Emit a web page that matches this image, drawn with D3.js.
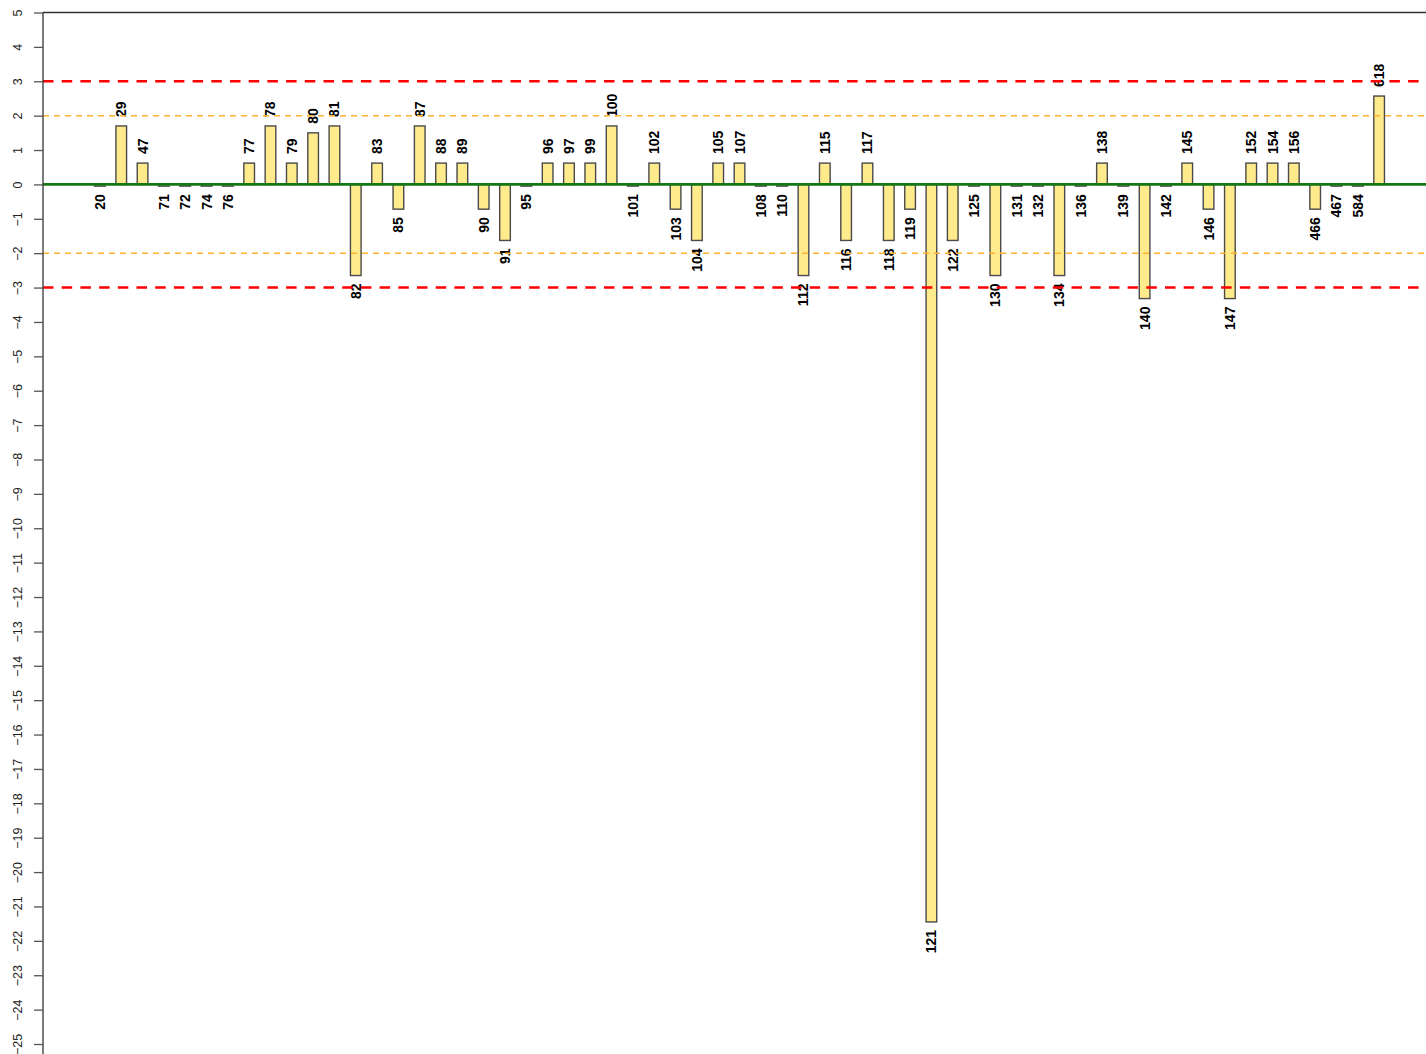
<!DOCTYPE html>
<html>
<head>
<meta charset="utf-8">
<script src="https://cdn.jsdelivr.net/npm/d3@7/dist/d3.min.js"></script>
<style>
  html, body { margin: 0; padding: 0; background: #fff; overflow: hidden; }
  svg { display: block; font-family: "Liberation Sans", Arial, sans-serif; }
</style>
</head>
<body>
<svg id="chart" width="1426" height="1054"></svg>
<script>
// ---- data ----
const categories = ["20","29","47","71","72","74","76","77","78","79","80","81","82","83","85","87","88","89","90","91","95","96","97","99","100","101","102","103","104","105","107","108","110","112","115","116","117","118","119","121","122","125","130","131","132","134","136","138","139","140","142","145","146","147","152","154","156","466","467","584","618"];
const values = [-0.05,1.7,0.62,-0.05,-0.05,-0.05,-0.05,0.62,1.7,0.62,1.5,1.7,-2.65,0.62,-0.72,1.7,0.62,0.62,-0.72,-1.63,-0.05,0.62,0.62,0.62,1.7,-0.05,0.62,-0.72,-1.63,0.62,0.62,-0.05,-0.05,-2.65,0.62,-1.63,0.62,-1.63,-0.72,-21.45,-1.63,-0.05,-2.65,-0.05,-0.05,-2.65,-0.05,0.62,-0.05,-3.32,-0.05,0.62,-0.72,-3.32,0.62,0.62,0.62,-0.72,-0.05,-0.05,2.57];
const yTicks = [5,4,3,2,1,0,-1,-2,-3,-4,-5,-6,-7,-8,-9,-10,-11,-12,-13,-14,-15,-16,-17,-18,-19,-20,-21,-22,-23,-24,-25];
const warnLimits = [2,-2];
const alarmLimits = [3,-3];
const baseline = [0];

// ---- scales (barplot units: bar i spans [1+2i, 2+2i]) ----
const n = categories.length;
const xLo = 1, xHi = 2 * n;
const ext = (xHi - xLo) * 0.04;
const x = d3.scaleLinear().domain([xLo - ext, xHi + ext]).range([43, 43 + (xHi - xLo + 2 * ext) * 10.66]);
const y = d3.scaleLinear().domain([-25, 5]).range([1044, 12.5]);

const svg = d3.select("#chart");
const plotLeft = x(xLo - ext), plotRight = x(xHi + ext);

// bars
svg.append("g").selectAll("rect").data(values).join("rect")
  .attr("x", (d, i) => x(1 + 2 * i))
  .attr("width", (d, i) => x(2 + 2 * i) - x(1 + 2 * i))
  .attr("y", d => y(Math.max(0, d)))
  .attr("height", d => Math.abs(y(d) - y(0)))
  .attr("fill", "#FFEA8C")
  .attr("stroke", "#4a4a4a")
  .attr("stroke-width", 1.4);

// bar labels
svg.append("g").selectAll("text").data(values).join("text")
  .attr("transform", (d, i) => {
    const cx = x(1.5 + 2 * i);
    const yy = d >= 0 ? y(d) - 9 : y(d) + 8;
    return `translate(${cx},${yy}) rotate(-90)`;
  })
  .attr("text-anchor", d => d >= 0 ? "start" : "end")
  .attr("dominant-baseline", "central")
  .attr("font-size", "14px")
  .attr("font-weight", "bold")
  .attr("fill", "#000")
  .text((d, i) => categories[i]);

// reference lines
svg.append("g").selectAll("line").data(warnLimits).join("line")
  .attr("x1", plotLeft).attr("x2", plotRight)
  .attr("y1", d => y(d)).attr("y2", d => y(d))
  .attr("stroke", "#FFB22E").attr("stroke-width", 1.5)
  .attr("stroke-dasharray", "6,5");

svg.append("g").selectAll("line").data(alarmLimits).join("line")
  .attr("x1", plotLeft).attr("x2", plotRight)
  .attr("y1", d => y(d)).attr("y2", d => y(d))
  .attr("stroke", "#FF0000").attr("stroke-width", 2.5)
  .attr("stroke-dasharray", "10.5,8.2");

svg.append("g").selectAll("line").data(baseline).join("line")
  .attr("x1", plotLeft).attr("x2", plotRight)
  .attr("y1", d => y(d)).attr("y2", d => y(d))
  .attr("stroke", "#137813").attr("stroke-width", 2.6);

// frame (top)
svg.append("line")
  .attr("x1", plotLeft).attr("x2", plotRight)
  .attr("y1", y(5)).attr("y2", y(5))
  .attr("stroke", "#333").attr("stroke-width", 1.3);

// y axis
const yAxis = d3.axisLeft(y).tickValues(yTicks).tickSize(9).tickPadding(6).tickFormat(d3.format("d"));
const ga = svg.append("g").attr("transform", `translate(${plotLeft},0)`).call(yAxis);
ga.select(".domain").attr("d", `M0,${y(5)}V1060`).attr("stroke", "#333").attr("stroke-width", 1.3);
ga.selectAll(".tick line").attr("stroke", "#555").attr("stroke-width", 1.3);
ga.selectAll(".tick text")
  .attr("x", null).attr("dy", null)
  .attr("transform", "translate(-25,0) rotate(-90)")
  .attr("text-anchor", "middle")
  .attr("dominant-baseline", "central")
  .attr("font-size", "12.5px")
  .attr("font-family", "'Liberation Sans', Arial, sans-serif")
  .attr("fill", "#222");
</script>
</body>
</html>
